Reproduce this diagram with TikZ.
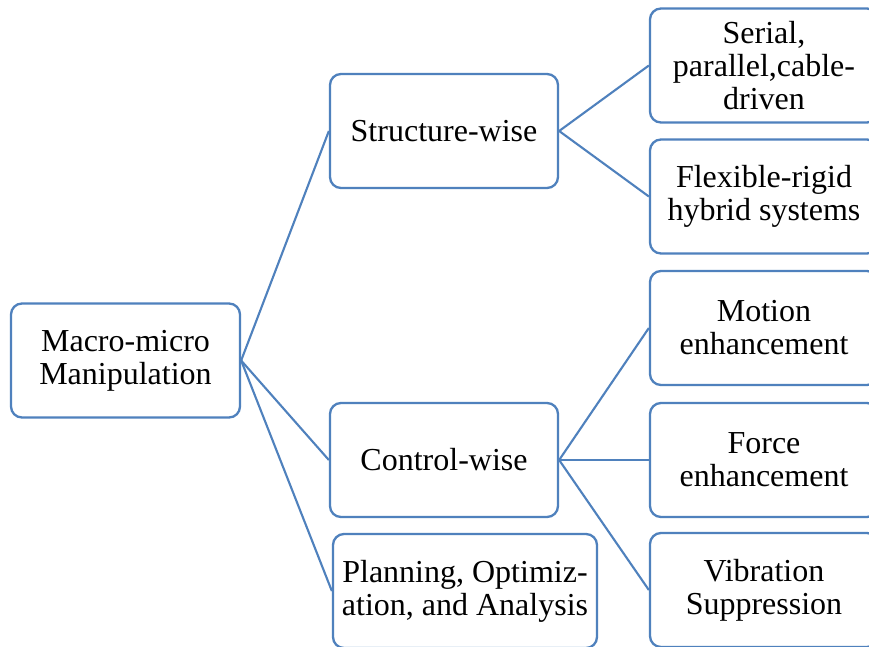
\documentclass[tikz,border=0pt]{standalone}
\usepackage{fontspec}
\setmainfont{Liberation Serif}
\definecolor{boxblue}{HTML}{4F81BD}
\begin{document}
\begin{tikzpicture}[x=1pt,y=-1pt,
  box/.style={draw=boxblue, line width=2.3pt, rounded corners=11pt, fill=white,
    minimum width=228pt, minimum height=114pt, align=center, inner sep=0pt,
    font=\fontsize{32}{33}\selectfont},
  link/.style={draw=boxblue, line width=2.1pt}]
\clip (0,0) rectangle (869,646);
\fill[white] (0,0) rectangle (869,646);
\node[box, minimum width=229pt, minimum height=114pt] (root) at (125.5,360.5) {Macro-micro\\Manipulation};
\node[box] (struct) at (444,131) {Structure-wise};
\node[box] (ctrl) at (444,460) {Control-wise};
\node[box, minimum width=264pt] (plan) at (465,591) {Planning, Optimiz-\\ation, and Analysis};
\node[box] (serial) at (764,65.5) {Serial,\\parallel,cable-\\driven};
\node[box] (flex) at (764,196.5) {Flexible-rigid\\hybrid systems};
\node[box] (motion) at (764,328) {Motion\\enhancement};
\node[box] (force) at (764,460) {Force\\enhancement};
\node[box] (vib) at (764,590) {Vibration\\Suppression};
\draw[link] (root.east) -- (struct.west);
\draw[link] (root.east) -- (ctrl.west);
\draw[link] (root.east) -- (plan.west);
\draw[link] (struct.east) -- (serial.west);
\draw[link] (struct.east) -- (flex.west);
\draw[link] (ctrl.east) -- (motion.west);
\draw[link] (ctrl.east) -- (force.west);
\draw[link] (ctrl.east) -- (vib.west);
\end{tikzpicture}
\end{document}
